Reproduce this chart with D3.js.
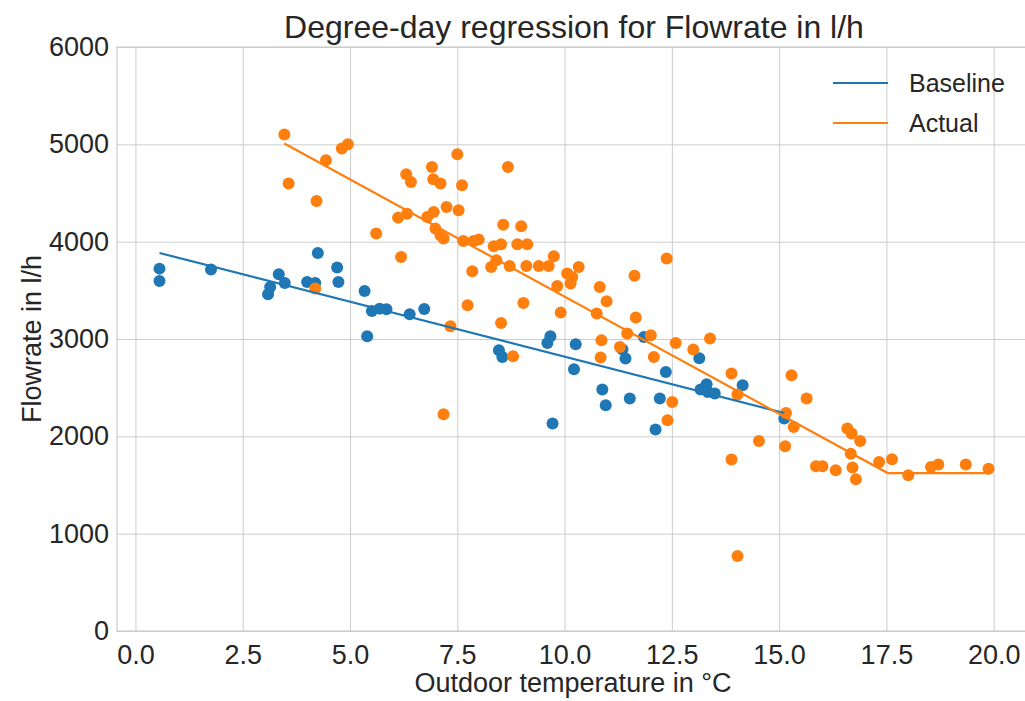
<!DOCTYPE html>
<html>
<head>
<meta charset="utf-8">
<style>
  body { margin: 0; background: #fff; }
  svg { display: block; font-family: "Liberation Sans", Arial, sans-serif; }
  .grid line { stroke: #cccccc; stroke-width: 1; }
  .grid path { display: none; }
  .tick text { fill: #262626; font-size: 27px; }
  .frame { fill: none; stroke: #cccccc; stroke-width: 1.2; }
  .title { fill: #262626; font-size: 32px; text-anchor: middle; }
  .axis-label { fill: #262626; font-size: 27px; text-anchor: middle; }
  .legend text { fill: #262626; font-size: 25px; }
</style>
</head>
<body>
<div id="chart"></div>
<script src="https://cdnjs.cloudflare.com/ajax/libs/d3/7.8.5/d3.min.js"></script>
<script>
// outdoor temperature (°C), flowrate (l/h)
var baselinePoints = [
  [0.56, 3723], [0.56, 3596], [1.76, 3713], [3.09, 3459], [3.14, 3534],
  [3.34, 3665], [3.48, 3576], [4.00, 3586], [4.19, 3576], [4.25, 3884],
  [4.70, 3734], [4.73, 3586], [5.34, 3493], [5.40, 3028], [5.51, 3288],
  [5.69, 3312], [5.85, 3305], [6.39, 3254], [6.73, 3308], [8.47, 2884],
  [8.55, 2815], [9.60, 2959], [9.67, 3028], [9.72, 2131], [10.22, 2690],
  [10.26, 2946], [10.88, 2480], [10.96, 2319], [11.35, 2891], [11.42, 2799],
  [11.52, 2388], [11.85, 3021], [12.12, 2069], [12.22, 2388], [12.36, 2661],
  [13.14, 2803], [13.17, 2480], [13.31, 2535], [13.34, 2456], [13.50, 2439],
  [14.15, 2524], [15.12, 2182]
];

var actualPoints = [
  [3.47, 5100], [3.57, 4597], [4.19, 3518], [4.22, 4418], [4.44, 4836],
  [4.81, 4956], [4.95, 5000], [5.61, 4083], [6.12, 4247], [6.19, 3843],
  [6.31, 4692], [6.33, 4288], [6.42, 4613], [6.80, 4254], [6.91, 4767],
  [6.94, 4641], [6.95, 4305], [6.99, 4134], [7.11, 4597], [7.11, 4066],
  [7.18, 4032], [7.18, 2226], [7.25, 4356], [7.34, 3130], [7.50, 4898],
  [7.53, 4322], [7.61, 4579], [7.64, 4007], [7.74, 3346], [7.85, 3696],
  [7.88, 4007], [8.00, 4021], [8.29, 3740], [8.35, 3952], [8.41, 3809],
  [8.52, 3973], [8.52, 3164], [8.57, 4175], [8.68, 4767], [8.72, 3750],
  [8.80, 2822], [8.90, 3973], [8.99, 4158], [9.04, 3370], [9.11, 3750],
  [9.13, 3973], [9.40, 3750], [9.63, 3750], [9.75, 3850], [9.83, 3545],
  [9.91, 3271], [10.06, 3672], [10.14, 3569], [10.18, 3637], [10.33, 3740],
  [10.75, 3261], [10.82, 3534], [10.84, 2809], [10.86, 2987], [10.98, 3387],
  [11.29, 2918], [11.46, 3056], [11.63, 3649], [11.66, 3220], [12.01, 3038],
  [12.08, 2815], [12.38, 3826], [12.40, 2165], [12.51, 2353], [12.59, 2959],
  [13.00, 2891], [13.39, 3004], [13.89, 2645], [13.89, 1761], [14.03, 2429],
  [14.03, 771], [14.53, 1952], [15.14, 1898], [15.16, 2240], [15.29, 2627],
  [15.34, 2096], [15.64, 2388], [15.86, 1692], [16.01, 1692], [16.32, 1651],
  [16.59, 2080], [16.69, 2028], [16.67, 1822], [16.71, 1679], [16.79, 1559],
  [16.89, 1952], [17.33, 1737], [17.63, 1764], [18.01, 1600], [18.54, 1685],
  [18.71, 1710], [19.35, 1710], [19.88, 1668]
];

// regression lines
var baselineFit = [[0.56, 3884], [15.12, 2240]];
var actualFit = [[3.47, 5008], [17.53, 1623], [19.88, 1623]];

var xTicks = [0, 2.5, 5, 7.5, 10, 12.5, 15, 17.5, 20];
var yTicks = [0, 1000, 2000, 3000, 4000, 5000, 6000];

var seriesNames = ["Baseline", "Actual"];
var colors = ["#1f77b4", "#ff7f0e"];

var W = 1025, H = 701;
var margin = { top: 47, right: 0, bottom: 70, left: 117 };
var width = 1028 - margin.left,
    height = H - margin.top - margin.bottom;

var svg = d3.select("#chart").append("svg")
  .attr("width", W)
  .attr("height", H);

var g = svg.append("g")
  .attr("transform", "translate(" + margin.left + "," + margin.top + ")");

var x = d3.scaleLinear().domain([-0.43, 20.8]).range([0, width]);
var y = d3.scaleLinear().domain([0, 6000]).range([height, 0]);

// grid + ticks
g.append("g")
  .attr("class", "grid")
  .attr("transform", "translate(0," + height + ")")
  .call(d3.axisBottom(x).tickValues(xTicks).tickFormat(d3.format(".1f"))
    .tickSize(-height).tickPadding(10))
  .selectAll("text").attr("dy", "0.86em");

g.append("g")
  .attr("class", "grid")
  .call(d3.axisLeft(y).tickValues(yTicks).tickFormat(d3.format("d"))
    .tickSize(-width).tickPadding(8));

g.append("rect")
  .attr("class", "frame")
  .attr("width", width)
  .attr("height", height);

// scatter
var pointSets = [baselinePoints, actualPoints];
pointSets.forEach(function (pts, i) {
  g.append("g").selectAll("circle")
    .data(pts)
    .enter().append("circle")
    .attr("cx", function (d) { return x(d[0]); })
    .attr("cy", function (d) { return y(d[1]); })
    .attr("r", 6)
    .attr("fill", colors[i]);
});

// regression lines above points
var line = d3.line()
  .x(function (d) { return x(d[0]); })
  .y(function (d) { return y(d[1]); });

[baselineFit, actualFit].forEach(function (fit, i) {
  g.append("path")
    .datum(fit)
    .attr("d", line)
    .attr("fill", "none")
    .attr("stroke", colors[i])
    .attr("stroke-width", 2.2);
});

// title & labels
svg.append("text")
  .attr("class", "title")
  .attr("x", 574)
  .attr("y", 38)
  .text("Degree-day regression for Flowrate in l/h");

svg.append("text")
  .attr("class", "axis-label")
  .attr("x", 573)
  .attr("y", 692)
  .text("Outdoor temperature in °C");

svg.append("text")
  .attr("class", "axis-label")
  .attr("transform", "translate(41," + (margin.top + height / 2) + ") rotate(-90)")
  .text("Flowrate in l/h");

// legend
var legend = svg.append("g").attr("class", "legend");
seriesNames.forEach(function (name, i) {
  var ly = 83 + i * 40;
  legend.append("line")
    .attr("x1", 833).attr("x2", 888)
    .attr("y1", ly).attr("y2", ly)
    .attr("stroke", colors[i])
    .attr("stroke-width", 2.2);
  legend.append("text")
    .attr("x", 909)
    .attr("y", ly)
    .attr("dy", "0.36em")
    .text(name);
});
</script>
</body>
</html>
